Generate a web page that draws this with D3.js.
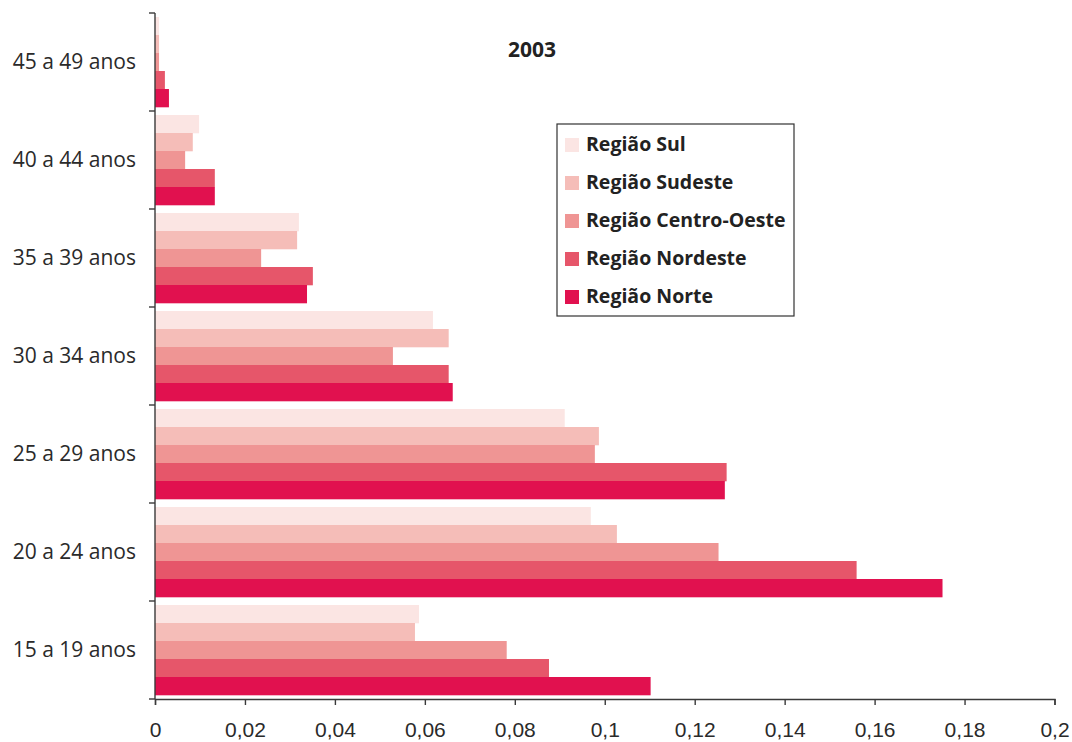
<!DOCTYPE html>
<html lang="pt">
<head>
<meta charset="utf-8">
<script src="https://cdn.jsdelivr.net/npm/d3@7"></script>
<style>
  html, body { margin: 0; padding: 0; background: #fff; }
  svg { display: block; font-family: "Open Sans", "Noto Sans", sans-serif; }
</style>
</head>
<body>
<svg id="chart" width="1072" height="742"></svg>
<script>
// Age groups, bottom to top as drawn on the vertical axis
const ageGroups = ["15 a 19 anos", "20 a 24 anos", "25 a 29 anos", "30 a 34 anos",
                   "35 a 39 anos", "40 a 44 anos", "45 a 49 anos"];

// Regions, in the order the bars stack inside each group (top to bottom)
const regions = ["Região Sul", "Região Sudeste", "Região Centro-Oeste", "Região Nordeste", "Região Norte"];
const regionColors = ["#fbe5e3", "#f5bdb8", "#ef9594", "#e6566a", "#e1114f"];

// Share of each age group, one array per region (same order as ageGroups)
const sul        = [0.0587, 0.0969, 0.0911, 0.0618, 0.0320, 0.0098, 0.0009];
const sudeste    = [0.0578, 0.1027, 0.0987, 0.0653, 0.0316, 0.0084, 0.0009];
const centroOeste= [0.0782, 0.1253, 0.0978, 0.0529, 0.0236, 0.0067, 0.0009];
const nordeste   = [0.0876, 0.1560, 0.1271, 0.0653, 0.0351, 0.0133, 0.0022];
const norte      = [0.1102, 0.1751, 0.1267, 0.0662, 0.0338, 0.0133, 0.0031];
const seriesValues = [sul, sudeste, centroOeste, nordeste, norte];

const xTicks = [0, 0.02, 0.04, 0.06, 0.08, 0.1, 0.12, 0.14, 0.16, 0.18, 0.2];
const chartTitle = "2003";

const svg = d3.select("#chart");
const margin = { left: 155, right: 17.5, top: 13, bottom: 43 };
const W = 1072, H = 742;

const x = d3.scaleLinear().domain([0, 0.2]).range([margin.left, W - margin.right]);
const y = d3.scaleBand().domain(ageGroups.slice().reverse())
  .range([margin.top, H - margin.bottom]).paddingInner(0).paddingOuter(0);
const yInner = d3.scaleBand().domain(regions).range([0, y.bandwidth()])
  .paddingInner(0).paddingOuter(0.222);

// Bars
const rows = [];
ageGroups.forEach((g, gi) => {
  regions.forEach((r, ri) => rows.push({ group: g, region: r, ri, value: seriesValues[ri][gi] }));
});
svg.append("g").selectAll("rect").data(rows).join("rect")
  .attr("x", x(0))
  .attr("y", d => y(d.group) + yInner(d.region))
  .attr("width", d => x(d.value) - x(0))
  .attr("height", yInner.bandwidth() + 0.3)
  .attr("fill", d => regionColors[d.ri]);

// X axis
const fmt = d => String(d).replace(".", ",");
const xAxis = svg.append("g")
  .attr("transform", `translate(0,${H - margin.bottom})`)
  .call(d3.axisBottom(x).tickValues(xTicks).tickFormat(fmt).tickSizeOuter(0).tickSize(6).tickPadding(17));
xAxis.select(".domain").attr("stroke", "#3a3a3a").attr("stroke-width", 1.4);
xAxis.selectAll(".tick line").attr("stroke", "#3a3a3a").attr("stroke-width", 1.4);
xAxis.selectAll(".tick text").attr("fill", "#2a2a2a").style("font-size", "21px");

// Y axis: ticks at band boundaries, labels at band centres
const yAxis = svg.append("g").attr("transform", `translate(${x(0)},0)`);
yAxis.append("line")
  .attr("x1", 0).attr("x2", 0)
  .attr("y1", margin.top).attr("y2", H - margin.bottom)
  .attr("stroke", "#3a3a3a").attr("stroke-width", 1.4);
const boundaries = y.domain().map(g => y(g)).concat([H - margin.bottom]);
yAxis.selectAll("line.tick").data(boundaries).join("line")
  .attr("class", "tick")
  .attr("x1", -6).attr("x2", 0)
  .attr("y1", d => d).attr("y2", d => d)
  .attr("stroke", "#3a3a3a").attr("stroke-width", 1.4);
yAxis.selectAll("text").data(y.domain()).join("text")
  .attr("x", -19)
  .attr("y", d => y(d) + y.bandwidth() / 2 + 1)
  .attr("text-anchor", "end")
  .attr("dominant-baseline", "middle")
  .attr("fill", "#2a2a2a")
  .style("font-size", "21px")
  .text(d => d);

// Title
svg.append("text")
  .attr("x", 532).attr("y", 57)
  .attr("text-anchor", "middle")
  .attr("fill", "#222")
  .style("font-size", "21px").style("font-weight", "bold")
  .text(chartTitle);

// Legend
const legend = svg.append("g").attr("transform", "translate(557,124)");
legend.append("rect")
  .attr("x", 0).attr("y", 0).attr("width", 237).attr("height", 192)
  .attr("fill", "#fff").attr("stroke", "#333").attr("stroke-width", 1.2);
const items = legend.selectAll("g.item").data(regions).join("g")
  .attr("class", "item")
  .attr("transform", (d, i) => `translate(8,${21 + i * 38})`);
items.append("rect")
  .attr("x", 0).attr("y", -7).attr("width", 14).attr("height", 14)
  .attr("fill", (d, i) => regionColors[i]);
items.append("text")
  .attr("x", 21).attr("y", 1)
  .attr("dominant-baseline", "middle")
  .attr("fill", "#222")
  .style("font-size", "19.5px").style("font-weight", "bold")
  .text(d => d);
</script>
</body>
</html>
